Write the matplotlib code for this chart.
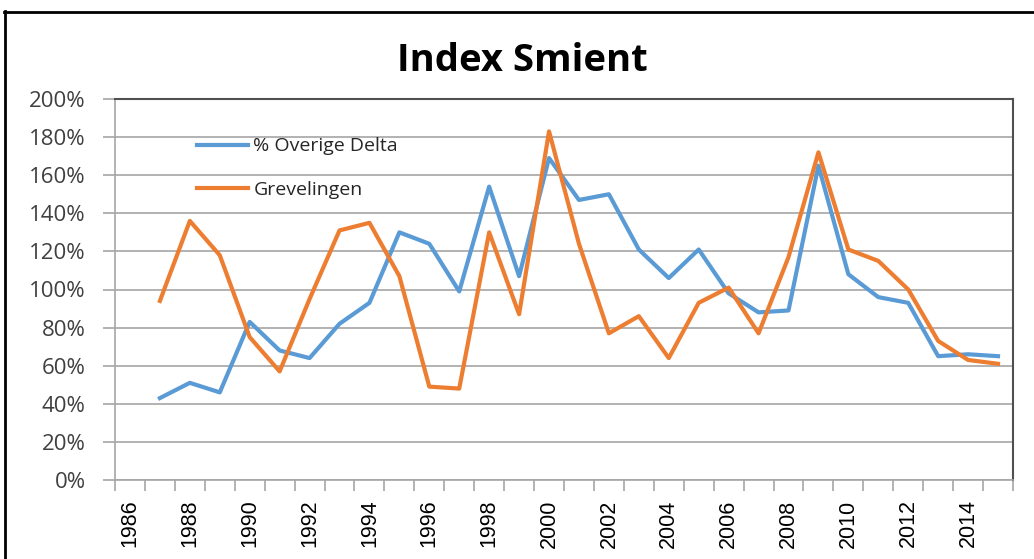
import matplotlib
matplotlib.use("Agg")
import matplotlib.pyplot as plt
from matplotlib.lines import Line2D
import numpy as np

years = list(range(1986, 2016))
overige_delta = [None, 43, 51, 46, 83, 68, 64, 82, 93, 130, 124, 99, 154, 107, 169,
                 147, 150, 121, 106, 121, 98, 88, 89, 165, 108, 96, 93, 65, 66, 65]
grevelingen = [None, 94, 136, 118, 75, 57, 95, 131, 135, 107, 49, 48, 130, 87, 183,
               124, 77, 86, 64, 93, 101, 77, 117, 172, 121, 115, 100, 73, 63, 61]
y_ticks = list(range(0, 201, 20))

blue = "#5B9BD5"
orange = "#ED7D31"
grid_c = "#A6A6A6"

fig = plt.figure(figsize=(10.34, 5.59), dpi=100)
ax = fig.add_axes([115 / 1034, 1 - 480 / 559, 898 / 1034, 381 / 559])

x = np.arange(len(years))
d1 = np.array([np.nan if v is None else v for v in overige_delta], dtype=float)
d2 = np.array([np.nan if v is None else v for v in grevelingen], dtype=float)
ax.plot(x, d1, color=blue, lw=3, label="% Overige Delta", solid_joinstyle="round")
ax.plot(x, d2, color=orange, lw=3, label="Grevelingen", solid_joinstyle="round")

ax.set_xlim(-0.5, len(years) - 0.5)
ax.set_ylim(0, 200)
ax.set_yticks(y_ticks)
ax.set_yticklabels([f"{v}%" for v in y_ticks], fontsize=16, family="Open Sans", color="#404040")
ax.yaxis.grid(True, color=grid_c, lw=1.2)
ax.set_axisbelow(True)
ax.tick_params(axis="y", length=9, width=1.2, color=grid_c, pad=12)

ax.set_xticks(x[::2])
ax.set_xticklabels([str(y) for y in years[::2]], rotation=90, fontsize=15.5,
                   family="Liberation Sans", color="black")
ax.set_xticks(np.arange(-0.5, len(years)), minor=True)
ax.tick_params(axis="x", which="major", length=0, pad=14)
ax.tick_params(axis="x", which="minor", length=8, width=1.2, color=grid_c)

for s in ["left", "bottom"]:
    ax.spines[s].set_color(grid_c)
    ax.spines[s].set_linewidth(1.2)
for s in ["top", "right"]:
    ax.spines[s].set_color("#505050")
    ax.spines[s].set_linewidth(1.5)

leg = ax.legend(loc="upper left", bbox_to_anchor=(0.0913, 0.899), frameon=False,
                borderpad=0, borderaxespad=0,
                prop={"family": "Open Sans", "size": 14}, handlelength=2.6,
                labelspacing=1.32, handletextpad=0.3)
for t in leg.get_texts():
    t.set_color("#262626")

fig.text(0.5055, 1 - 61 / 559, "Index Smient", ha="center", va="center",
         fontsize=27.5, fontweight="bold", family="Open Sans")

# outer chart border (cropped at right and bottom)
fig.add_artist(Line2D([4.5 / 1034, 4.5 / 1034], [0, 1 - 11 / 559], color="black", lw=2,
                      transform=fig.transFigure))
fig.add_artist(Line2D([4 / 1034, 1], [1 - 11.5 / 559, 1 - 11.5 / 559], color="black", lw=2,
                      transform=fig.transFigure))

fig.savefig("out.png", dpi=100)
